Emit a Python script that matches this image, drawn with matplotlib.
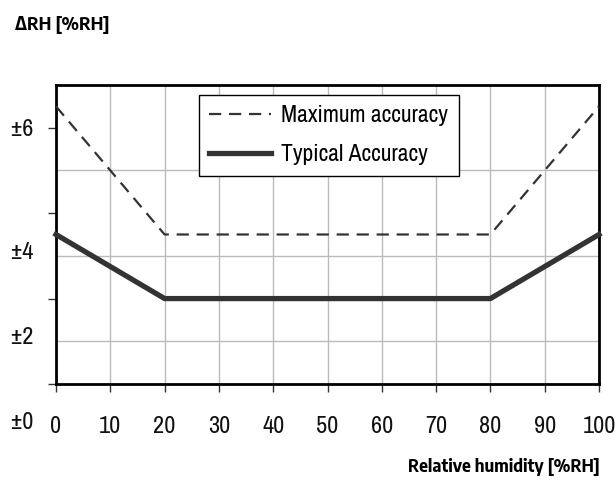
import matplotlib
matplotlib.use("Agg")
import matplotlib.pyplot as plt

plt.rcParams['font.family'] = ['Archivo Narrow', 'DejaVu Sans']
BOLD = ['Encode Sans Semi Condensed', 'DejaVu Sans']

rh = [0, 20, 80, 100]
max_acc = [6.5, 3.5, 3.5, 6.5]
typ_acc = [3.5, 2.0, 2.0, 3.5]
x_ticks = list(range(0, 101, 10))
y_label_text = ["±6", "±4", "±2", "±0"]
y_label_pos = [5.95, 3.07, 1.08, -0.89]

fig = plt.figure(figsize=(6.16, 4.95), dpi=100)
ax = fig.add_axes([56/616, 1-384/495, 543/616, 299/495])
ax.set_xlim(0, 100)
ax.set_ylim(0, 7)

ax.plot(rh, max_acc, color='#333333', lw=1.6, ls=(0, (5.5, 3.5)), label='Maximum accuracy', clip_on=False, zorder=3)
ax.plot(rh, typ_acc, color='#333333', lw=3.8, ls='-', label='Typical Accuracy', clip_on=False, zorder=3)

ax.set_xticks(x_ticks)
ax.set_xticks([], minor=True)
ax.set_yticks([0, 2, 4, 6])
ax.set_yticks(range(0, 8), minor=True)
ax.set_yticklabels([])
ax.grid(True, which='major', axis='x', color='#bbbbbb', lw=1)
ax.grid(True, which='minor', axis='y', color='#bbbbbb', lw=1)
ax.set_axisbelow(True)
ax.tick_params(axis='y', which='major', direction='out', length=6, width=1, color='#333333')
ax.tick_params(axis='y', which='minor', length=0)
ax.tick_params(axis='x', which='major', direction='out', length=6, width=1, color='#333333',
               labelsize=17.5, pad=17, labelcolor='#111111')
for s in ax.spines.values():
    s.set_linewidth(2)
    s.set_color('black')

for t, p in zip(y_label_text, y_label_pos):
    ax.text(-0.086, p, t, transform=ax.get_yaxis_transform(), ha='left', va='center', fontsize=17.5,
            color='#111111', clip_on=False)

fig.text(15/616, 1-25/495, "ΔRH [%RH]", fontsize=12.8, fontweight='bold', family=BOLD, ha='left', va='center')
fig.text(600/616, 1-467/495, "Relative humidity [%RH]", fontsize=12.4, fontweight='bold', family=BOLD,
         ha='right', va='center')

leg = ax.legend(loc='upper left', bbox_to_anchor=(0.263, 0.967), fontsize=17, frameon=True, fancybox=False,
                edgecolor='black', framealpha=1, handlelength=2.6, handletextpad=0.45, borderpad=0.45,
                labelspacing=0.75, borderaxespad=0)
leg.get_frame().set_linewidth(1)

fig.savefig("out.png", dpi=100)
